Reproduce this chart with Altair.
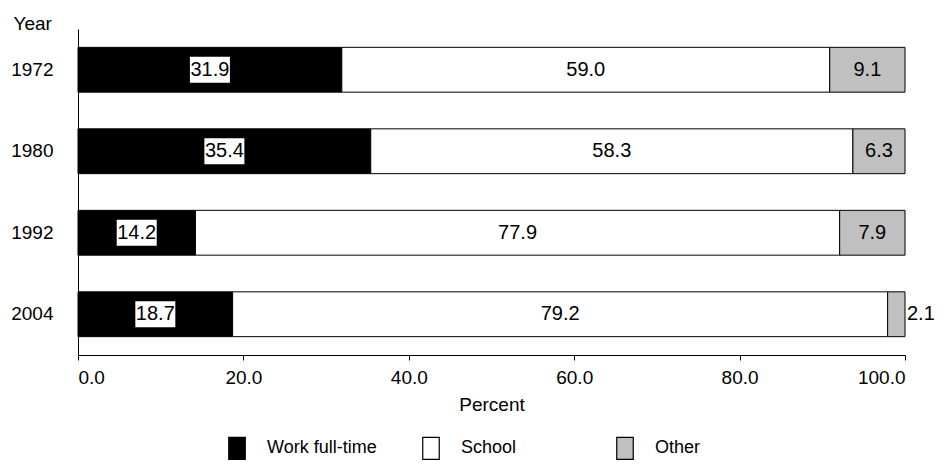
import altair as alt
import pandas as pd

years = ["1972", "1980", "1992", "2004"]
work = [31.9, 35.4, 14.2, 18.7]
school = [59.0, 58.3, 77.9, 79.2]
other = [9.1, 6.3, 7.9, 2.1]
cats = ["Work full-time", "School", "Other"]
colors = ["#000000", "#ffffff", "#c0c0c0"]
ticks = [0, 20, 40, 60, 80, 100]

rows = []
for i, y in enumerate(years):
    start = 0.0
    for j, (c, vals) in enumerate(zip(cats, [work, school, other])):
        v = vals[i]
        rows.append({"Year": y, "cat": c, "order": j, "value": v,
                     "start": start, "end": start + v, "mid": start + v / 2})
        start += v
df = pd.DataFrame(rows)

FONT = "Liberation Sans"

yenc = alt.Y("Year:N", sort=years,
             scale=alt.Scale(paddingInner=0.45, paddingOuter=0.225),
             axis=alt.Axis(title="Year", titleAngle=0, titleAlign="left",
                           titleBaseline="alphabetic", titleX=-65, titleY=0,
                           titleFontWeight="normal", titleFontSize=19,
                           labelFontSize=19, labelPadding=25, ticks=False,
                           domainColor="black", labelColor="black",
                           titleColor="black"))

bars = alt.Chart(df).mark_bar(stroke="black", strokeWidth=1).encode(
    x=alt.X("start:Q", scale=alt.Scale(domain=[0, 100], nice=False),
            axis=alt.Axis(title="Percent", values=ticks, format=".1f",
                          grid=False, tickSize=5, tickColor="black",
                          domainColor="black", labelColor="black",
                          labelFontSize=19, labelPadding=8,
                          titleFontSize=19, titleFontWeight="normal",
                          titleColor="black", titlePadding=8)),
    x2="end:Q",
    y=yenc,
    color=alt.Color("cat:N", sort=cats,
                    scale=alt.Scale(domain=cats, range=colors),
                    legend=alt.Legend(title=None, orient="none",
                                      direction="horizontal", columns=3,
                                      legendX=147, legendY=407,
                                      symbolType="M-0.75,-1L0.75,-1L0.75,1L-0.75,1Z",
                                      symbolSize=484, symbolStrokeColor="black",
                                      symbolStrokeWidth=1.2, symbolOpacity=1,
                                      labelFontSize=18, labelColor="black",
                                      labelOffset=18, columnPadding=42,
                                      gridAlign="all", padding=0,
                                      labelLimit=300)),
    order=alt.Order("order:Q"),
)

boxes = alt.Chart(df).transform_filter(
    alt.datum.cat == "Work full-time"
).mark_point(shape="M-1,-0.65L1,-0.65L1,0.65L-1,0.65Z", filled=True,
             fill="white", opacity=1, size=1600, strokeWidth=0).encode(
    x="mid:Q", y=alt.Y("Year:N", sort=years)
)

inside = alt.Chart(df).transform_filter(
    alt.datum.value >= 3
).mark_text(font=FONT, fontSize=20, color="black", baseline="middle",
            align="center").encode(
    x="mid:Q", y=alt.Y("Year:N", sort=years),
    text=alt.Text("value:Q", format=".1f"),
)

outside = alt.Chart(df).transform_filter(
    alt.datum.value < 3
).mark_text(font=FONT, fontSize=20, color="black", baseline="middle",
            align="left", dx=2).encode(
    x="end:Q", y=alt.Y("Year:N", sort=years),
    text=alt.Text("value:Q", format=".1f"),
)

chart = alt.layer(bars, boxes, inside, outside).properties(
    width=827, height=326,
    autosize=alt.AutoSizeParams(type="none"),
    padding={"left": 70, "top": 21, "right": 32, "bottom": 107},
).configure(font=FONT).configure_view(stroke=None)

chart.save("out.html", embed_options={"renderer": "svg", "actions": False})
